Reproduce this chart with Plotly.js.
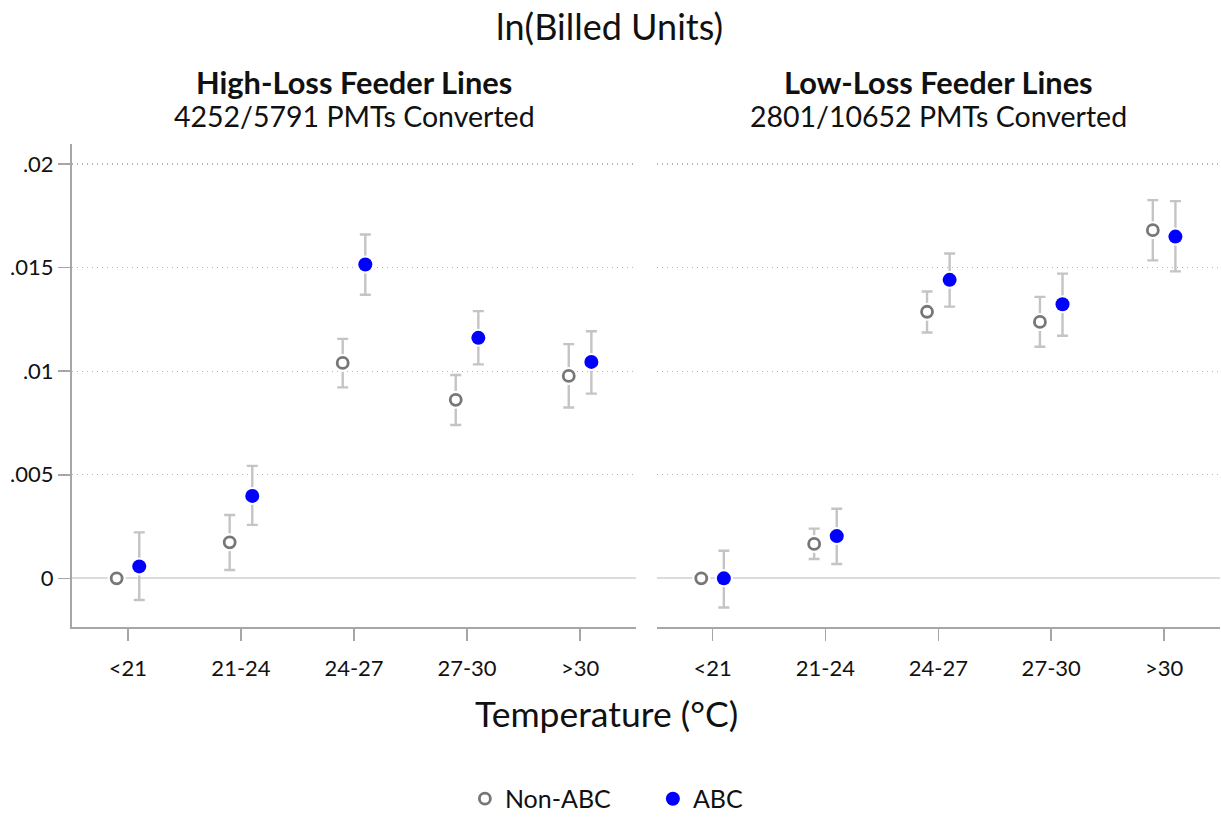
<!DOCTYPE html>
<html><head><meta charset="utf-8">
<script src="https://cdn.plot.ly/plotly-3.0.1.min.js"></script>
<style>body{margin:0;background:#fff}#c{width:1221px;height:819px}</style>
</head><body><div id="c"></div>
<script>
const categories = ["<21", "21-24", "24-27", "27-30", ">30"];
const yTickVals = [0, 0.005, 0.01, 0.015, 0.02];
const yTickText = ["0", ".005", ".01", ".015", ".02"];

// High-loss panel
const hiNonAbc    = [0, 0.00174, 0.0104, 0.00862, 0.00977];
const hiNonAbcHi  = [0, 0.00306, 0.01156, 0.00982, 0.01131];
const hiNonAbcLo  = [0, 0.00040, 0.00922, 0.00740, 0.00825];
const hiAbc       = [0.000575, 0.00398, 0.01515, 0.01161, 0.01045];
const hiAbcHi     = [0.00222, 0.00543, 0.01660, 0.01290, 0.01193];
const hiAbcLo     = [-0.00105, 0.00258, 0.01369, 0.01033, 0.00892];

// Low-loss panel
const loNonAbc    = [0, 0.00166, 0.01287, 0.01238, 0.01681];
const loNonAbcHi  = [0, 0.00240, 0.01385, 0.01359, 0.01826];
const loNonAbcLo  = [0, 0.00093, 0.01187, 0.01118, 0.01535];
const loAbc       = [0, 0.00204, 0.01441, 0.01323, 0.01650];
const loAbcHi     = [0.00133, 0.00336, 0.01568, 0.01471, 0.01821];
const loAbcLo     = [-0.00141, 0.00069, 0.01312, 0.01171, 0.01482];

const panelTitles = ["High-Loss Feeder Lines", "Low-Loss Feeder Lines"];
const panelSubtitles = ["4252/5791 PMTs Converted", "2801/10652 PMTs Converted"];

const FONT = "Lato, 'Noto Sans', sans-serif";
const ERRC = "#c4c4c4";
const idx = categories.map((c, i) => i + 1);

function series(vals, hi, lo, offset, xa, ya, isAbc, showLeg) {
  const x = idx.map(v => v + offset);
  const errTrace = {
    type: "scatter", mode: "markers", x: x, y: vals, xaxis: xa, yaxis: ya,
    showlegend: false, hoverinfo: "skip",
    marker: {color: "#ffffff", size: 18, line: {width: 0}},
    error_y: {type: "data", symmetric: false,
      array: hi.map((h, i) => h - vals[i]),
      arrayminus: lo.map((l, i) => vals[i] - l),
      color: ERRC, thickness: 2.4, width: 5.5}
  };
  const mk = isAbc
    ? {color: "#0000ff", size: 14, line: {width: 0}}
    : {color: "#ffffff", size: 11, symbol: "circle", line: {color: "#777777", width: 2.8}};
  const ptTrace = {
    type: "scatter", mode: "markers", x: x, y: vals, xaxis: xa, yaxis: ya,
    name: isAbc ? "ABC" : "Non-ABC", showlegend: showLeg, marker: mk
  };
  return [errTrace, ptTrace];
}

const data = [
  ...series(hiNonAbc, hiNonAbcHi, hiNonAbcLo, -0.1, "x", "y", false, true),
  ...series(hiAbc, hiAbcHi, hiAbcLo, 0.1, "x", "y", true, true),
  ...series(loNonAbc, loNonAbcHi, loNonAbcLo, -0.1, "x2", "y2", false, false),
  ...series(loAbc, loAbcHi, loAbcLo, 0.1, "x2", "y2", true, false)
];

const xCommon = {
  range: [0.505, 5.495], tickvals: idx, ticktext: categories,
  showgrid: false, zeroline: false, showline: true, linecolor: "#a6a6a6", linewidth: 2,
  ticks: "outside", ticklen: 12, tickwidth: 1.5, tickcolor: "#a6a6a6",
  ticklabelstandoff: 9,
  tickfont: {family: FONT, size: 22, color: "#111"}, fixedrange: true
};
const yCommon = {
  range: [-0.00235, 0.02097], tickvals: yTickVals, ticktext: yTickText,
  showgrid: true, gridcolor: "#b4b4b4", griddash: "1px,4px", gridwidth: 1.2,
  zeroline: true, zerolinecolor: "#dcdcdc", zerolinewidth: 2,
  tickfont: {family: FONT, size: 22, color: "#111"}, fixedrange: true
};

const layout = {
  width: 1221, height: 819,
  margin: {l: 72, r: 1, t: 144, b: 192, autoexpand: false},
  paper_bgcolor: "#fff", plot_bgcolor: "#fff",
  font: {family: FONT, color: "#111"},
  showlegend: true,
  legend: {orientation: "h", x: 0.506, xanchor: "center", y: -0.356, yanchor: "middle",
    font: {family: FONT, size: 25, color: "#111"}, itemwidth: 30, entrywidth: 143, tracegroupgap: 0},
  xaxis: Object.assign({}, xCommon, {domain: [0, 0.4913], anchor: "y"}),
  xaxis2: Object.assign({}, xCommon, {domain: [0.5093, 1], anchor: "y2"}),
  yaxis: Object.assign({}, yCommon, {domain: [0, 1], anchor: "x",
    showline: true, linecolor: "#a6a6a6", linewidth: 2,
    ticks: "outside", ticklen: 12, tickwidth: 1.5, tickcolor: "#a6a6a6"}),
  yaxis2: Object.assign({}, yCommon, {domain: [0, 1], anchor: "x2", matches: "y",
    showline: false, ticks: "", showticklabels: false}),
  annotations: [
    {text: "ln(Billed Units)", xref: "paper", yref: "paper", x: 0.4686, y: 1 + (144 - 26) / 483,
     xanchor: "center", yanchor: "middle", showarrow: false, font: {family: FONT, size: 36, color: "#111"}},
    {text: "Temperature (°C)", xref: "paper", yref: "paper", x: 0.4660, y: -(713 - 627) / 483,
     xanchor: "center", yanchor: "middle", showarrow: false, font: {family: FONT, size: 35.5, color: "#111"}},
    {text: "<b>" + panelTitles[0] + "</b>", xref: "x domain", yref: "paper", x: 0.5, y: 1 + (144 - 83) / 483,
     xanchor: "center", yanchor: "middle", showarrow: false, font: {family: FONT, size: 30.8, color: "#111"}},
    {text: panelSubtitles[0], xref: "x domain", yref: "paper", x: 0.5, y: 1 + (144 - 116) / 483,
     xanchor: "center", yanchor: "middle", showarrow: false, font: {family: FONT, size: 28.5, color: "#111"}},
    {text: "<b>" + panelTitles[1] + "</b>", xref: "x2 domain", yref: "paper", x: 0.5, y: 1 + (144 - 83) / 483,
     xanchor: "center", yanchor: "middle", showarrow: false, font: {family: FONT, size: 30.8, color: "#111"}},
    {text: panelSubtitles[1], xref: "x2 domain", yref: "paper", x: 0.5, y: 1 + (144 - 116) / 483,
     xanchor: "center", yanchor: "middle", showarrow: false, font: {family: FONT, size: 28.5, color: "#111"}}
  ]
};

Plotly.newPlot("c", data, layout, {staticPlot: true, displayModeBar: false});
</script></body></html>
